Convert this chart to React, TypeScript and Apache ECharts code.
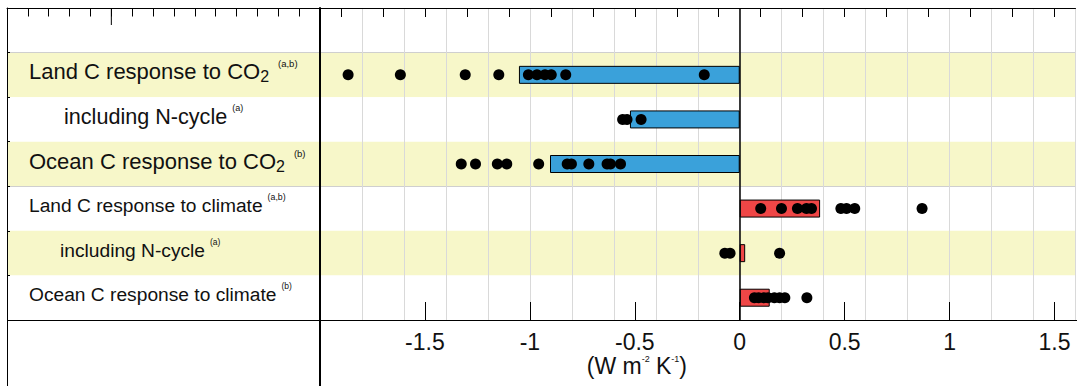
import React, { useEffect, useRef } from 'react';
import * as echarts from 'echarts';

// ---- data ----
const rowLabels = [
  'Land C response to CO',
  'including N-cycle',
  'Ocean C response to CO',
  'Land C response to climate',
  'including N-cycle',
  'Ocean C response to climate',
];
const rowSubscripts = ['2', '', '2', '', '', ''];
const rowNotes = ['(a,b)', '(a)', '(b)', '(a,b)', '(a)', '(b)'];
const barEnds = [-1.052, -0.523, -0.904, 0.383, 0.026, 0.143];
const modelDots: number[][] = [
  [-1.866, -1.617, -1.308, -1.148, -1.007, -0.966, -0.928, -0.898, -0.829, -0.169],
  [-0.558, -0.537, -0.47],
  [-1.327, -1.259, -1.155, -1.11, -0.958, -0.822, -0.802, -0.719, -0.632, -0.616, -0.568],
  [0.1, 0.199, 0.275, 0.318, 0.342, 0.482, 0.509, 0.548, 0.869],
  [-0.071, -0.046, 0.19],
  [0.07, 0.09, 0.115, 0.135, 0.165, 0.19, 0.215, 0.32],
];
const xTickLabels = ['-1.5', '-1', '-0.5', '0', '0.5', '1', '1.5'];
const unitText = ['(W m', '-2', ' K', '-1', ')'];

// ---- styles / layout ----
const W = 1077;
const H = 386;
const FONT = '"Liberation Sans", Arial, Helvetica, sans-serif';
const TXT = '#111';
const labelFont = [22, 21.6, 22, 19.2, 19.2, 19.2];
const noteFont = [9.5, 9, 9.5, 8.8, 8.5, 8.5];
const labelIndent = [0, 35, 0, 0, 31, 0];
const rowIsCO2 = [true, true, true, false, false, false];
const BLUE = '#3AA1DA';
const RED = '#EF4646';
const YELLOW = '#F7F7C9';
const GRID_GREY = '#d9d9d9';

const PLOT_LEFT = 320;
const TOP = 8;
const BOTTOM = 66;
const X_MIN = -2;
const X_MAX = 1.6;
const PLOT_RIGHT = 1.5;
const plotW = W - PLOT_RIGHT - PLOT_LEFT;
const pxPerUnit = plotW / (X_MAX - X_MIN);
const labelAxisRight = W - (PLOT_LEFT + (1.5 - X_MIN) * pxPerUnit);

export default function App() {
  const ref = useRef<HTMLDivElement>(null);
  useEffect(() => {
    const chart = echarts.init(ref.current!, null, { renderer: 'svg' });
    const categories = ['', ...rowLabels];

    const rich: Record<string, any> = {};
    rowLabels.forEach((_, i) => {
      rich['t' + i] = {
        fontSize: labelFont[i],
        fontFamily: FONT,
        color: TXT,
        lineHeight: 26,
        verticalAlign: 'middle',
        padding: [0, 0, 0, labelIndent[i]],
      };
      rich['s' + i] = {
        fontSize: 16,
        fontFamily: FONT,
        color: TXT,
        lineHeight: 12,
        verticalAlign: 'bottom',
      };
      rich['n' + i] = {
        fontSize: noteFont[i],
        fontFamily: FONT,
        color: TXT,
        lineHeight: 17,
        verticalAlign: 'top',
        padding: [0, 0, 0, rowSubscripts[i] ? 9 : 5],
      };
    });

    const labelFormatter = (_v: string, idx: number) => {
      if (idx === 0) return '';
      const i = idx - 1;
      let s = `{t${i}|${rowLabels[i]}}`;
      if (rowSubscripts[i]) s += `{s${i}|${rowSubscripts[i]}}`;
      s += `{n${i}|${rowNotes[i]}}`;
      return s;
    };

    const groupLine = (index: number) => index === 1 || index === 4;

    const scatterData: number[][] = [];
    modelDots.forEach((row, i) => row.forEach((v) => scatterData.push([v, i + 1])));

    const option: any = {
      animation: false,
      backgroundColor: '#fff',
      grid: [
        { left: 7, top: TOP, width: PLOT_LEFT - 7, bottom: BOTTOM },
        { left: PLOT_LEFT, top: TOP, right: PLOT_RIGHT, bottom: BOTTOM },
        { left: PLOT_LEFT, top: TOP, right: labelAxisRight, bottom: BOTTOM },
      ],
      xAxis: [
        {
          gridIndex: 0,
          type: 'value',
          position: 'top',
          min: 0,
          max: 15,
          interval: 1,
          axisLine: { show: true, lineStyle: { color: '#000', width: 1 } },
          axisTick: { show: true, inside: true, length: 8.5, lineStyle: { color: '#000' } },
          axisLabel: { show: false },
          splitLine: { show: false },
        },
        {
          gridIndex: 1,
          type: 'value',
          position: 'top',
          min: X_MIN,
          max: X_MAX,
          interval: 0.2,
          axisLine: { show: true, onZero: false, lineStyle: { color: '#000', width: 1 } },
          axisTick: { show: false, inside: true },
          minorTick: { show: true, splitNumber: 2, length: 9, lineStyle: { color: '#000', width: 1 } },
          axisLabel: { show: false },
          splitLine: { show: true, lineStyle: { color: GRID_GREY, width: 1 } },
        },
        {
          gridIndex: 2,
          type: 'value',
          position: 'bottom',
          min: X_MIN,
          max: 1.5,
          interval: 0.5,
          axisLine: { show: false, onZero: false },
          axisTick: { show: true, inside: true, length: 18, lineStyle: { color: '#000', width: 1 } },
          axisLabel: {
            show: true,
            fontSize: 23,
            fontFamily: FONT,
            color: TXT,
            margin: 10,
            formatter: (v: number) => {
              const k = Math.round((v - X_MIN) / 0.5) - 1;
              return k >= 0 && k < xTickLabels.length ? xTickLabels[k] : '';
            },
          },
          splitLine: { show: false },
        },
      ],
      yAxis: [
        {
          gridIndex: 0,
          type: 'category',
          data: categories,
          inverse: true,
          position: 'left',
          axisLine: { show: true, onZero: false, lineStyle: { color: '#000', width: 1 } },
          axisTick: { show: true, inside: true, length: 3, lineStyle: { color: '#000' } },
          axisLabel: {
            show: true,
            inside: true,
            interval: 0,
            margin: 22,
            align: 'left',
            padding: [0, 0, 6, 0],
            formatter: labelFormatter,
            rich,
          },
          splitLine: { show: true, interval: groupLine, lineStyle: { color: '#cfcfcf', width: 1 } },
          splitArea: { show: true, areaStyle: { color: ['#ffffff', YELLOW] } },
        },
        {
          gridIndex: 1,
          type: 'category',
          data: categories,
          inverse: true,
          position: 'left',
          axisLine: { show: true, onZero: false, lineStyle: { color: '#000', width: 2 } },
          axisTick: { show: false },
          axisLabel: { show: false },
          splitLine: { show: true, interval: groupLine, lineStyle: { color: '#cfcfcf', width: 1 } },
          splitArea: { show: true, areaStyle: { color: ['#ffffff', YELLOW] } },
        },
        { gridIndex: 2, type: 'value', show: false },
      ],
      series: [
        {
          type: 'bar',
          xAxisIndex: 1,
          yAxisIndex: 1,
          barWidth: 18,
          data: [null, ...barEnds.map((v, i) => ({
            value: v,
            itemStyle: { color: rowIsCO2[i] ? BLUE : RED, borderColor: '#000', borderWidth: 1 },
          }))],
          markLine: {
            silent: true,
            symbol: ['none', 'none'],
            label: { show: false },
            lineStyle: { color: '#000', width: 1.5, type: 'solid' },
            data: [{ xAxis: 0 }],
          },
          z: 2,
        },
        {
          type: 'scatter',
          xAxisIndex: 1,
          yAxisIndex: 1,
          symbol: 'circle',
          symbolSize: 11,
          itemStyle: { color: '#000', opacity: 1 },
          data: scatterData,
          z: 3,
        },
      ],
      graphic: [
        { type: 'line', z: 50, shape: { x1: 7.5, y1: TOP, x2: 7.5, y2: H }, style: { stroke: '#000', lineWidth: 1 } },
        { type: 'line', z: 50, shape: { x1: PLOT_LEFT, y1: TOP, x2: PLOT_LEFT, y2: H }, style: { stroke: '#000', lineWidth: 2 } },
        { type: 'line', z: 50, shape: { x1: 7, y1: H - BOTTOM + 0.5, x2: W, y2: H - BOTTOM + 0.5 }, style: { stroke: '#000', lineWidth: 1 } },
        { type: 'line', z: 50, shape: { x1: 7 + 5 * ((PLOT_LEFT - 7) / 15), y1: TOP, x2: 7 + 5 * ((PLOT_LEFT - 7) / 15), y2: TOP + 17 }, style: { stroke: '#000', lineWidth: 1 } },
        {
          type: 'text',
          z: 50,
          x: PLOT_LEFT + (-0.49 - X_MIN) * pxPerUnit,
          y: 366,
          style: {
            text: `${unitText[0]}{s|${unitText[1]}}${unitText[2]}{s|${unitText[3]}}${unitText[4]}`,
            fontSize: 23,
            fontFamily: FONT,
            fill: TXT,
            align: 'center',
            verticalAlign: 'middle',
            rich: {
              s: { fontSize: 9, fontFamily: FONT, fill: TXT, lineHeight: 14, verticalAlign: 'top' },
            },
          },
        },
      ],
    };
    chart.setOption(option);
    return () => chart.dispose();
  }, []);
  return (
    <div
      ref={ref}
      style={{ position: 'fixed', left: 0, top: 0, width: W, height: H, background: '#fff' }}
    />
  );
}
